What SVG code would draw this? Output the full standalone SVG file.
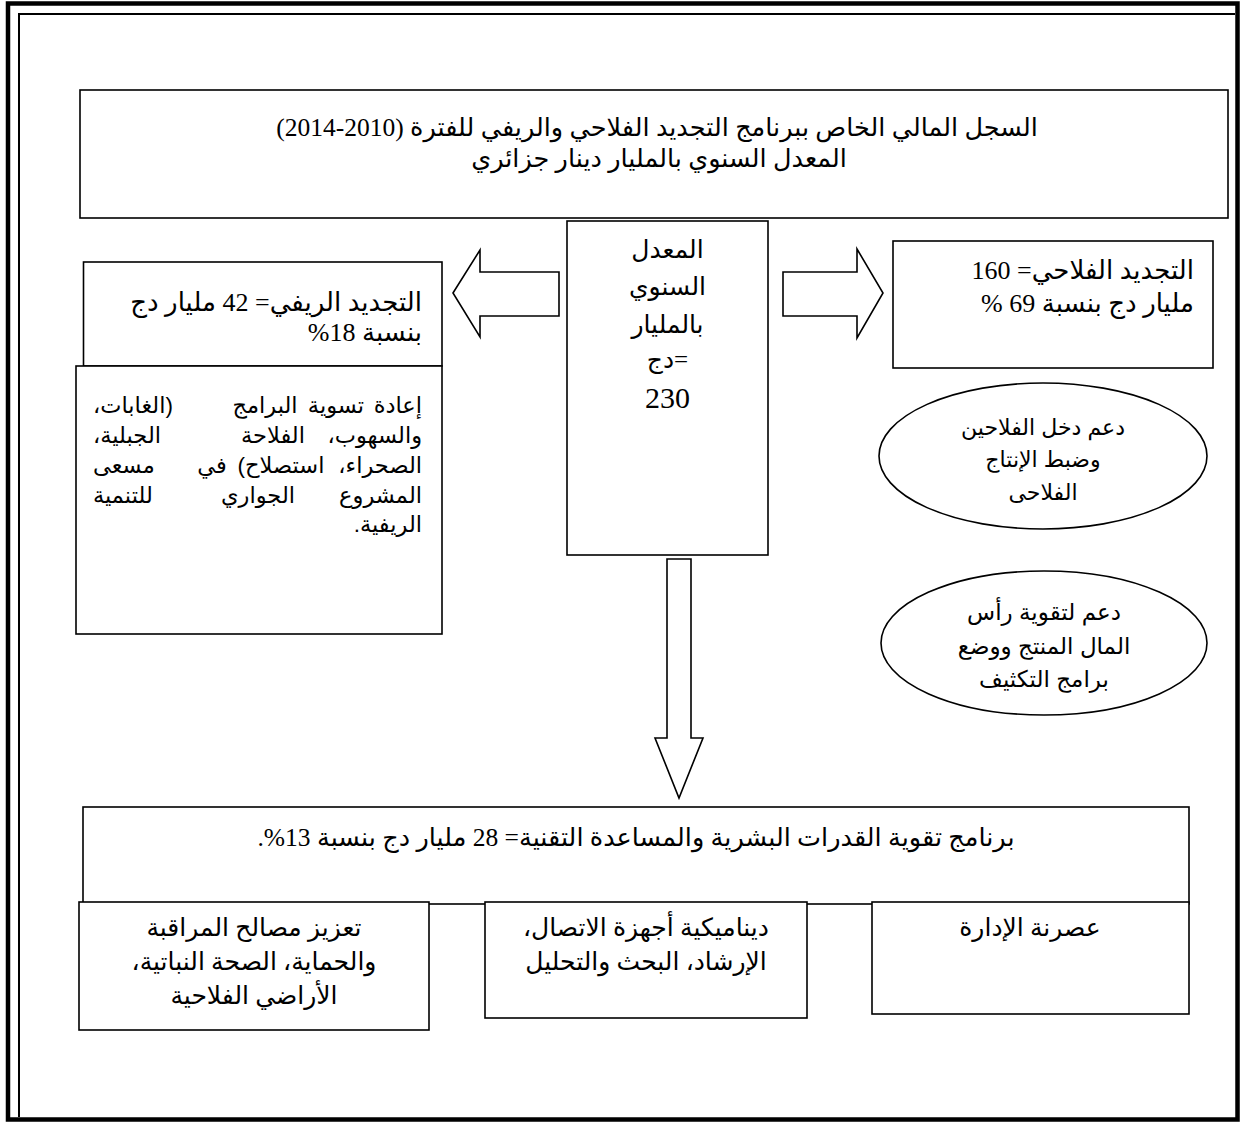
<svg xmlns="http://www.w3.org/2000/svg" width="1243" height="1128" viewBox="0 0 1243 1128">
<style>
.box{fill:#fff;stroke:#000;stroke-width:1.6}
.arr{fill:#fff;stroke:#000;stroke-width:1.6;stroke-linejoin:miter}
.t{font-family:"Liberation Serif","DejaVu Sans",serif;fill:#000}
.s{font-family:"Liberation Sans","DejaVu Sans",sans-serif;fill:#000}
</style>
<rect width="1243" height="1128" fill="#fff"/>
<g id="frame">
<rect x="8" y="3.5" width="1229.5" height="1116" fill="none" stroke="#000" stroke-width="4.5"/>
<polyline points="19,1117 19,14 1235,14" fill="none" stroke="#000" stroke-width="2"/>
</g>
<g id="connectors">
<polygon class="arr" points="453,293 480,250 480,272 559,272 559,316 480,316 480,337"/>
<polygon class="arr" points="783,272 857,272 857,249 883,293 857,338 857,316 783,316"/>
<polygon class="arr" points="667,559 691,559 691,738 703,738 679,798 655,738 667,738"/>
</g>
<g id="title">
<rect class="box" x="80" y="90" width="1148" height="128"/>
<text class="t" x="657" y="136" font-size="25.5" text-anchor="middle" direction="rtl">السجل المالي الخاص ببرنامج التجديد الفلاحي والريفي للفترة (2010-2014)</text>
<text class="t" x="659" y="167" font-size="25.5" text-anchor="middle" direction="rtl">المعدل السنوي بالمليار دينار جزائري</text>
</g>
<g id="center">
<rect class="box" x="567" y="221" width="201" height="334"/>
<text class="t" x="667.5" y="258" font-size="25" text-anchor="middle" direction="rtl">المعدل</text>
<text class="t" x="667.5" y="295" font-size="25" text-anchor="middle" direction="rtl">السنوي</text>
<text class="t" x="667.5" y="333" font-size="25" text-anchor="middle" direction="rtl">بالمليار</text>
<text class="t" x="667.5" y="368" font-size="25" text-anchor="middle" direction="rtl">=دج</text>
<text class="t" x="667.5" y="408" font-size="30" text-anchor="middle">230</text>
</g>
<g id="rural">
<rect class="box" x="83.5" y="262" width="358.5" height="104"/>
<text class="t" x="422" y="311" font-size="26" text-anchor="start" direction="rtl">التجديد الريفي= 42 مليار دج</text>
<text class="t" x="422" y="341" font-size="26" text-anchor="start" direction="rtl">بنسبة 18%</text>
</g>
<g id="rural-detail">
<rect class="box" x="76" y="366" width="366" height="268"/>
<g class="s" font-size="22.5" direction="rtl">
<text x="422" y="413" text-anchor="start">إعادة</text><text x="336" y="413" text-anchor="middle">تسوية</text><text x="265" y="413" text-anchor="middle">البرامج</text><text x="93" y="413" text-anchor="end">(الغابات،</text>
<text x="422" y="443" text-anchor="start">والسهوب،</text><text x="273" y="443" text-anchor="middle">الفلاحة</text><text x="93" y="443" text-anchor="end">الجبلية،</text>
<text x="422" y="473" text-anchor="start">الصحراء،</text><text x="281" y="473" text-anchor="middle">استصلاح)</text><text x="212" y="473" text-anchor="middle">في</text><text x="93" y="473" text-anchor="end">مسعى</text>
<text x="422" y="503" text-anchor="start">المشروع</text><text x="258" y="503" text-anchor="middle">الجواري</text><text x="93" y="503" text-anchor="end">للتنمية</text>
<text x="422" y="532" text-anchor="start">الريفية.</text>
</g>
</g>
<g id="agri">
<rect class="box" x="893" y="241" width="320" height="127"/>
<text class="t" x="1194" y="279" font-size="26" text-anchor="start" direction="rtl">التجديد الفلاحي= 160</text>
<text class="t" x="1194" y="312" font-size="26" text-anchor="start" direction="rtl">مليار دج بنسبة 69 %</text>
</g>
<g id="income">
<ellipse class="box" cx="1043" cy="456" rx="164" ry="73"/>
<text class="s" x="1043" y="435" font-size="22" text-anchor="middle" direction="rtl">دعم دخل الفلاحين</text>
<text class="s" x="1043" y="467" font-size="22" text-anchor="middle" direction="rtl">وضبط الإنتاج</text>
<text class="s" x="1043" y="500" font-size="22" text-anchor="middle" direction="rtl">الفلاحى</text>
</g>
<g id="capital">
<ellipse class="box" cx="1044" cy="643" rx="163" ry="72"/>
<text class="s" x="1044" y="620" font-size="23" text-anchor="middle" direction="rtl">دعم لتقوية رأس</text>
<text class="s" x="1044" y="654" font-size="23" text-anchor="middle" direction="rtl">المال المنتج ووضع</text>
<text class="s" x="1044" y="687" font-size="23" text-anchor="middle" direction="rtl">برامج التكثيف</text>
</g>
<g id="human">
<rect class="box" x="83" y="807" width="1106" height="97"/>
<text class="t" x="636" y="846" font-size="25.5" text-anchor="middle" direction="rtl">برنامج تقوية القدرات البشرية والمساعدة التقنية= 28 مليار دج بنسبة 13%.</text>
</g>
<g id="control">
<rect class="box" x="79" y="902" width="350" height="128"/>
<text class="t" x="254" y="936" font-size="25" text-anchor="middle" direction="rtl">تعزيز مصالح المراقبة</text>
<text class="t" x="254" y="970" font-size="25" text-anchor="middle" direction="rtl">والحماية، الصحة النباتية،</text>
<text class="t" x="254" y="1004" font-size="25" text-anchor="middle" direction="rtl">الأراضي الفلاحية</text>
</g>
<g id="extension">
<rect class="box" x="485" y="902" width="322" height="116"/>
<text class="t" x="646" y="936" font-size="25" text-anchor="middle" direction="rtl">ديناميكية أجهزة الاتصال،</text>
<text class="t" x="646" y="970" font-size="25" text-anchor="middle" direction="rtl">الإرشاد، البحث والتحليل</text>
</g>
<g id="admin">
<rect class="box" x="872" y="902" width="317" height="112"/>
<text class="t" x="1030" y="936" font-size="25" text-anchor="middle" direction="rtl">عصرنة الإدارة</text>
</g>
</svg>
